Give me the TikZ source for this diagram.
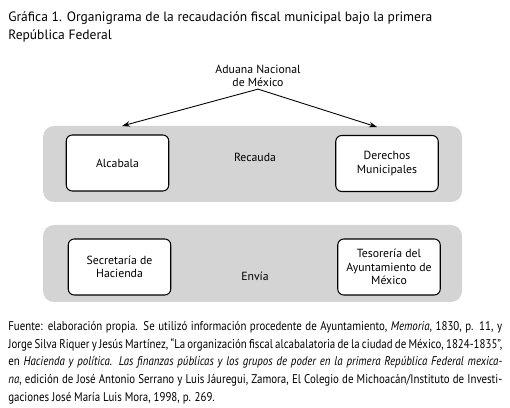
\documentclass[tikz,border=0pt]{standalone}
\usepackage{fontspec}
\setmainfont{PT Sans}
\newfontfamily\notafont[FakeStretch=0.86]{PT Sans}
\usetikzlibrary{arrows.meta,positioning}
\definecolor{grisfranja}{RGB}{212,212,212}
\tikzset{
  franja/.style={fill=grisfranja,rounded corners=0.22cm},
  caja/.style={draw,fill=white,rounded corners=0.12cm,line width=0.6pt,
    minimum width=2.05cm,minimum height=1.12cm,align=center,inner sep=1pt,
    font=\fontsize{6.7}{7.7}\selectfont},
  etiq/.style={font=\fontsize{6.7}{7.7}\selectfont,align=center},
  flecha/.style={-{Stealth[length=1.6mm,width=1.1mm]},line width=0.5pt},
}
\newcommand{\lin}[1]{\makebox[9.88cm][s]{#1}}

\begin{document}
\begin{tikzpicture}[x=0.02cm,y=-0.02cm]
  \useasboundingbox (0,0) rectangle (510,408);
  % titulo
  \node[anchor=north west,align=left,inner sep=0pt,font=\fontsize{7.7}{10.6}\selectfont]
    (titulo) at (8,11) {Gráfica 1. Organigrama de la recaudación fiscal municipal bajo la primera\\República Federal};
  % franjas
  \fill[franja] (43,126) rectangle (462,202);
  \fill[franja] (43,225) rectangle (462,302);
  \node[etiq] (recauda) at (255,157) {Recauda};
  \node[etiq] (envia) at (255,276) {Envía};
  % cajas
  \node[caja] (alcabala) at (117.5,163) {Alcabala};
  \node[caja] (derechos) at (387,163.5) {Derechos\\Municipales};
  \node[caja] (hacienda) at (119.5,267) {Secretaría de\\Hacienda};
  \node[caja] (tesoreria) at (389,267) {Tesorería del\\Ayuntamiento de\\México};
  % aduana y flechas
  \node[etiq,inner sep=1pt] (aduana) at (258,76) {Aduana Nacional\\de México};
  \coordinate (izq) at (122,126);
  \coordinate (der) at (377,127);
  \draw[flecha] (aduana.south) -- (izq);
  \draw[flecha] (aduana.south) -- (der);
  % fuente
  \node[anchor=north west,align=left,inner sep=0pt,font=\notafont\fontsize{7.2}{10.1}\selectfont]
    (fuente) at (8,321) {%
    \lin{Fuente: elaboración propia. Se utilizó información procedente de Ayuntamiento, \textit{Memoria}, 1830, p. 11, y}\\
    \lin{Jorge Silva Riquer y Jesús Martínez, “La organización fiscal alcabalatoria de la ciudad de México, 1824-1835”,}\\
    \lin{en \textit{Hacienda y política. Las finanzas públicas y los grupos de poder en la primera República Federal mexica-}}\\
    \lin{\textit{na}, edición de José Antonio Serrano y Luis Jáuregui, Zamora, El Colegio de Michoacán/Instituto de Investi-}\\
    gaciones José María Luis Mora, 1998, p. 269.};
\end{tikzpicture}
\end{document}
